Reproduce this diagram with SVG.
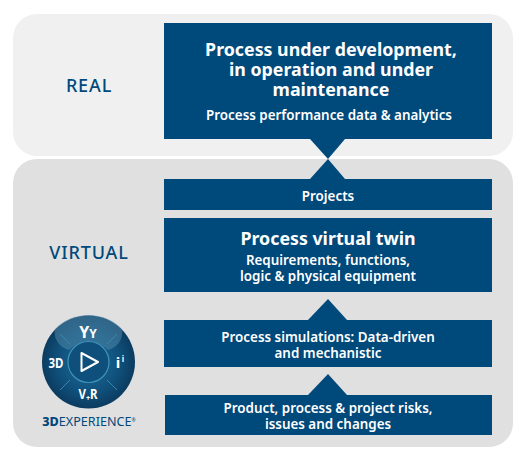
<svg xmlns="http://www.w3.org/2000/svg" width="526" height="462" viewBox="0 0 526 462">
<style>
text{font-family:"Noto Sans","Open Sans",sans-serif;text-anchor:middle}
.b{fill:#00497b}
.w{fill:#fff;font-weight:600;font-size:13.4px}
.t{fill:#fff;font-weight:700}
.h{font-size:17.8px}
.s{fill:#00497b;font-size:18px;font-weight:500;letter-spacing:.85px}
.l{stroke:#3f86ad;stroke-width:1;fill:none}
</style>
<defs>
<radialGradient id="g" cx=".5" cy=".5" r=".55"><stop offset="0" stop-color="#1d6c98"/><stop offset=".6" stop-color="#10517c"/><stop offset="1" stop-color="#0a3557"/></radialGradient>
</defs>
<rect x="13" y="14" width="500" height="142" rx="24" fill="#f0f0f0"/>
<rect x="13" y="159" width="500" height="288" rx="24" fill="#e0e0e0"/>
<text class="s" x="89" y="92">REAL</text>
<text class="s" x="89" y="259">VIRTUAL</text>
<g id="connectors">
<path class="b" d="M310 139H345L328 159L345 179H310L328 159Z"/>
<path class="b" d="M308 320L328 299L347 320Z"/>
<path class="b" d="M308 395L328 374L347 395Z"/>
</g>
<g id="node-real"><rect class="b" x="164" y="23" width="328" height="116"/>
<text class="t h" x="331" y="56">Process under development,<tspan x="331" dy="20">in operation and under</tspan><tspan x="331" dy="20">maintenance</tspan></text>
<text class="w" x="329" y="120">Process performance data &amp; analytics</text></g>
<g id="node-projects"><rect class="b" x="164" y="179" width="328" height="31"/>
<text class="w" x="328" y="201">Projects</text></g>
<g id="node-twin"><rect class="b" x="164" y="218" width="328" height="74"/>
<text class="t h" x="328" y="245">Process virtual twin</text>
<text class="w" x="328" y="265">Requirements, functions,<tspan x="328" dy="16">logic &amp; physical equipment</tspan></text></g>
<g id="node-sim"><rect class="b" x="164" y="320" width="328" height="47"/>
<text class="w" x="328" y="342">Process simulations: Data-driven<tspan x="328" dy="16">and mechanistic</tspan></text></g>
<g id="node-risks"><rect class="b" x="165" y="395" width="327" height="40"/>
<text class="w" x="328" y="413">Product, process &amp; project risks,<tspan x="328" dy="16">issues and changes</tspan></text></g>
<g id="logo">
<circle cx="88.5" cy="362" r="46.5" fill="url(#g)"/>
<path d="M55 329A47 47 0 0 1 122 329C124 340 116 348 108 350A28 28 0 0 0 69 350C61 348 53 340 55 329Z" fill="#4f86a8" opacity=".55"/>
<circle cx="88.5" cy="362" r="20.5" fill="#0e4f7c" stroke="#3f94bd" stroke-width="1.2"/>
<path d="M81.500 353L98 362L81.500 371Z" fill="none" stroke="#fff" stroke-width="2" stroke-linejoin="round"/>
<path class="l" d="M60 334L70 344M117 334L107 344M60 390L70 380M117 390L107 380"/>
<text class="t" font-size="13.500" x="56" y="368" textLength="15" lengthAdjust="spacingAndGlyphs">3D</text>
<text class="t" font-size="15" x="118" y="368">i</text>
<text class="t" font-size="8" x="123" y="362">i</text>
<text class="t" font-size="14" x="88" y="399" textLength="19" lengthAdjust="spacingAndGlyphs">V₊R</text>
<text class="t" font-size="16" x="88" y="338">Y<tspan font-size="12">Y</tspan></text>
<text x="89" y="426" font-size="12.600" fill="#00497b"><tspan font-weight="800">3D</tspan>EXPERIENCE<tspan font-size="5" dy="-4">®</tspan></text>
</g>
</svg>
